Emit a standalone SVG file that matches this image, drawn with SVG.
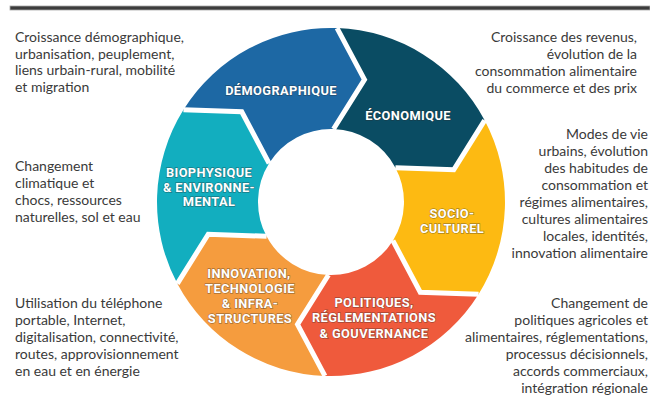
<svg xmlns="http://www.w3.org/2000/svg" width="650" height="396" viewBox="0 0 650 396">
<style>
.seg{stroke:none}
.gap{fill:none;stroke:#fff;stroke-width:5;stroke-linejoin:miter}
.lbl{font-family:Roboto,"Open Sans","DejaVu Sans",sans-serif;font-weight:700;font-size:12.8px;letter-spacing:0.4px;fill:#fff;text-anchor:middle;stroke:#2a2a2a;stroke-opacity:0.4;stroke-width:1.3;paint-order:stroke}
.txt{font-family:Lato,"Open Sans",sans-serif;font-size:14px;fill:#3a3a3a}
.r{text-anchor:end}
</style>
<rect x="10" y="6" width="640" height="4" fill="#3c3c3c" stroke="#a8a8a8" stroke-width="0.8"/>

<g id="biophysique">
<path class="seg" fill="#12AEBF" d="M 177.38 283.69 A 174 174 0 0 1 183.45 109.80 L 241.74 111.80 L 269.10 163.32 A 73 73 0 0 0 266.55 236.27 L 208.25 234.20 Z"/>
<text class="lbl" x="209" y="176.5">BIOPHYSIQUE</text>
<text class="lbl" x="209" y="191.5">&amp; ENVIRONNE-</text>
<text class="lbl" x="209" y="206">MENTAL</text>
</g>
<g id="demographique">
<path class="seg" fill="#1D68A4" d="M 183.45 109.80 A 174 174 0 0 1 337.07 28.10 L 364.49 79.59 L 333.55 129.04 A 73 73 0 0 0 269.10 163.32 L 241.74 111.80 Z"/>
<text class="lbl" x="281" y="94.5">DÉMOGRAPHIQUE</text>
</g>
<g id="economique">
<path class="seg" fill="#0A4C63" d="M 337.07 28.10 A 174 174 0 0 1 484.62 120.31 L 453.75 169.80 L 395.45 167.73 A 73 73 0 0 0 333.55 129.04 L 364.49 79.59 Z"/>
<text class="lbl" x="408" y="119.5">ÉCONOMIQUE</text>
</g>
<g id="socioculturel">
<path class="seg" fill="#FDBA12" d="M 484.62 120.31 A 174 174 0 0 1 478.55 294.20 L 420.26 292.20 L 392.90 240.68 A 73 73 0 0 0 395.45 167.73 L 453.75 169.80 Z"/>
<text class="lbl" x="452" y="217.5">SOCIO-</text>
<text class="lbl" x="452" y="232.5">CULTUREL</text>
</g>
<g id="politiques">
<path class="seg" fill="#EF5A3C" d="M 478.55 294.20 A 174 174 0 0 1 324.93 375.90 L 297.51 324.41 L 328.45 274.96 A 73 73 0 0 0 392.90 240.68 L 420.26 292.20 Z"/>
<text class="lbl" x="374" y="306.5">POLITIQUES,</text>
<text class="lbl" x="374" y="322">RÉGLEMENTATIONS</text>
<text class="lbl" x="374" y="337.5">&amp; GOUVERNANCE</text>
</g>
<g id="innovation">
<path class="seg" fill="#F59C3E" d="M 324.93 375.90 A 174 174 0 0 1 177.38 283.69 L 208.25 234.20 L 266.55 236.27 A 73 73 0 0 0 328.45 274.96 L 297.51 324.41 Z"/>
<text class="lbl" x="249" y="277.5">INNOVATION,</text>
<text class="lbl" x="250" y="292.5">TECHNOLOGIE</text>
<text class="lbl" x="250" y="307.5">&amp; INFRA-</text>
<text class="lbl" x="250" y="322.5">STRUCTURES</text>
</g>

<g id="connectors">
<polyline class="gap" points="478.55,294.20 420.26,292.20 392.90,240.68"/>
<polyline class="gap" points="324.93,375.90 297.51,324.41 328.45,274.96"/>
<polyline class="gap" points="177.38,283.69 208.25,234.20 266.55,236.27"/>
<polyline class="gap" points="183.45,109.80 241.74,111.80 269.10,163.32"/>
<polyline class="gap" points="337.07,28.10 364.49,79.59 333.55,129.04"/>
<polyline class="gap" points="484.62,120.31 453.75,169.80 395.45,167.73"/>
</g>

<g id="texts-left">
<text class="txt" x="15" y="42">Croissance démographique,</text>
<text class="txt" x="15" y="58.5">urbanisation, peuplement,</text>
<text class="txt" x="15" y="75">liens urbain-rural, mobilité</text>
<text class="txt" x="15" y="91.5">et migration</text>

<text class="txt" x="15" y="171">Changement</text>
<text class="txt" x="15" y="188">climatique et</text>
<text class="txt" x="15" y="205">chocs, ressources</text>
<text class="txt" x="15" y="222">naturelles, sol et eau</text>

<text class="txt" x="15" y="308">Utilisation du téléphone</text>
<text class="txt" x="15" y="325">portable, Internet,</text>
<text class="txt" x="15" y="342">digitalisation, connectivité,</text>
<text class="txt" x="15" y="359">routes, approvisionnement</text>
<text class="txt" x="15" y="376">en eau et en énergie</text>
</g>
<g id="texts-right">
<text class="txt r" x="637" y="41.5">Croissance des revenus,</text>
<text class="txt r" x="637" y="58.5">évolution de la</text>
<text class="txt r" x="637" y="75.5">consommation alimentaire</text>
<text class="txt r" x="637" y="92.5">du commerce et des prix</text>

<text class="txt r" x="648" y="139">Modes de vie</text>
<text class="txt r" x="648" y="156">urbains, évolution</text>
<text class="txt r" x="648" y="173">des habitudes de</text>
<text class="txt r" x="648" y="190">consommation et</text>
<text class="txt r" x="648" y="207">régimes alimentaires,</text>
<text class="txt r" x="648" y="224">cultures alimentaires</text>
<text class="txt r" x="648" y="241">locales, identités,</text>
<text class="txt r" x="648" y="258">innovation alimentaire</text>

<text class="txt r" x="648" y="308">Changement de</text>
<text class="txt r" x="648" y="325">politiques agricoles et</text>
<text class="txt r" x="648" y="342">alimentaires, réglementations,</text>
<text class="txt r" x="648" y="359">processus décisionnels,</text>
<text class="txt r" x="648" y="376">accords commerciaux,</text>
<text class="txt r" x="648" y="393">intégration régionale</text>
</g>
</svg>
